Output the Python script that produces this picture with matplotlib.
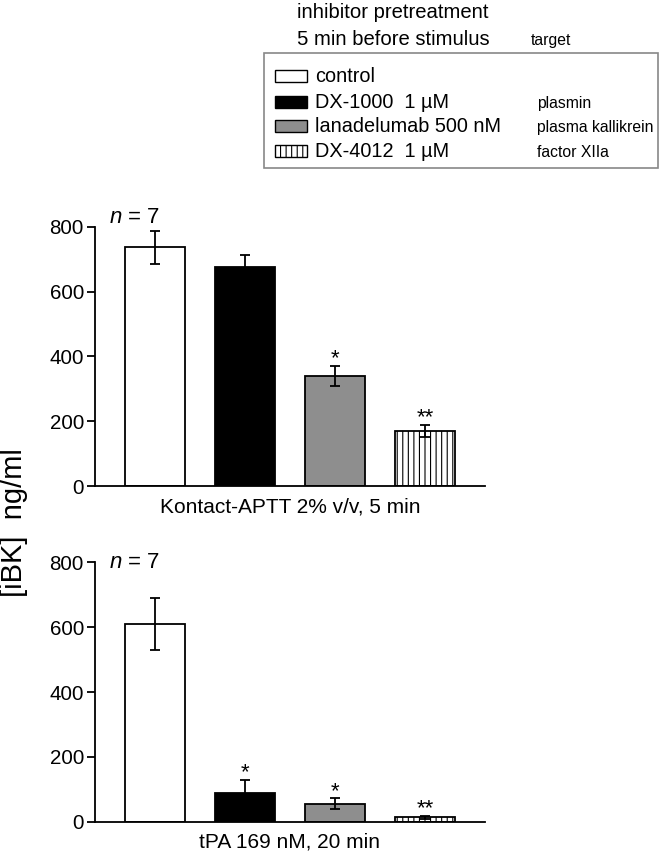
import numpy as np
import matplotlib
matplotlib.use('Agg')
import matplotlib.pyplot as plt
from matplotlib.patches import Rectangle

plt.rcParams['font.family'] = ['Liberation Sans', 'DejaVu Sans']
plt.rcParams['mathtext.fontset'] = 'custom'
plt.rcParams['mathtext.it'] = 'Liberation Sans:italic'
plt.rcParams['mathtext.rm'] = 'Liberation Sans'
plt.rcParams['hatch.linewidth'] = 0.8

# data
groups = ['control', 'DX-1000  1 µM', 'lanadelumab 500 nM', 'DX-4012  1 µM']
targets = ['', 'plasmin', 'plasma kallikrein', 'factor XIIa']
fills = ['white', 'black', '#8e8e8e', 'white']
hatches = [None, None, None, '|||']

aptt_mean = [736, 676, 340, 170]
aptt_sem = [52, 37, 31, 18]
aptt_stars = ['', '', '*', '**']

tpa_mean = [610, 88, 56, 13]
tpa_sem = [81, 41, 16, 5]
tpa_stars = ['', '*', '*', '**']

panels = [
    ('Kontact-APTT 2% v/v, 5 min', aptt_mean, aptt_sem, aptt_stars),
    ('tPA 169 nM, 20 min', tpa_mean, tpa_sem, tpa_stars),
]

W, H = 661, 855
fig = plt.figure(figsize=(W / 100, H / 100), dpi=100)


def fx(px):
    return px / W


def fy(py):
    return 1 - py / H


axes_rects = [
    [fx(95), fy(486), fx(485) - fx(95), fy(226.7) - fy(486)],
    [fx(95), fy(821.7), fx(485) - fx(95), fy(562.3) - fy(821.7)],
]
n_label_y = [1.014, 0.978]

x = np.arange(len(groups))
for rect, ny, (xlab, mean, sem, stars) in zip(axes_rects, n_label_y, panels):
    ax = fig.add_axes(rect)
    ax.bar(x, mean, width=0.667, color=fills, edgecolor='black',
           linewidth=1.3, hatch=hatches, zorder=2)
    ax.errorbar(x, mean, yerr=sem, fmt='none', ecolor='black',
                elinewidth=1.3, capsize=3.5, capthick=1.3, zorder=3)
    for xi, m, s, st in zip(x, mean, sem, stars):
        if st:
            ax.annotate(st, (xi, m + s), xytext=(0, 1), textcoords='offset points',
                        ha='center', va='baseline', fontsize=16)
    ax.set_xlim(-0.667, 3.667)
    ax.set_ylim(0, 800)
    ax.set_yticks([0, 200, 400, 600, 800])
    ax.set_xticks([])
    ax.spines['top'].set_visible(False)
    ax.spines['right'].set_visible(False)
    ax.spines['left'].set_linewidth(1.3)
    ax.spines['bottom'].set_linewidth(1.3)
    ax.tick_params(axis='y', length=6, width=1.3, labelsize=14.8, pad=2)
    ax.set_xlabel(xlab, fontsize=15, labelpad=8)
    ax.text(0.035, ny, r'$n$ = 7', transform=ax.transAxes, fontsize=16,
            ha='left', va='baseline')

fig.text(fx(14), fy(523), '[iBK]  ng/ml', rotation=90, fontsize=21,
         ha='center', va='center')

# legend block
fig.text(fx(296.7), fy(18.3), 'inhibitor pretreatment', fontsize=14.6, va='baseline')
fig.text(fx(296.7), fy(45), '5 min before stimulus', fontsize=14.6, va='baseline')
fig.text(fx(530.7), fy(45), 'target', fontsize=11.3, va='baseline')
fig.patches.append(Rectangle((fx(264), fy(168.3)), fx(658) - fx(264), fy(53.3) - fy(168.3),
                             transform=fig.transFigure, fill=False,
                             edgecolor='#888888', linewidth=1.2))
row_base = [82, 108, 132, 157]
for yb, g, t, c, h in zip(row_base, groups, targets, fills, hatches):
    fig.patches.append(Rectangle((fx(275), fy(yb)), fx(307) - fx(275), fy(yb - 12) - fy(yb),
                                 transform=fig.transFigure, facecolor=c,
                                 edgecolor='black', linewidth=1.0, hatch=h))
    fig.text(fx(315), fy(yb), g, fontsize=14.3, va='baseline')
    if t:
        fig.text(fx(536.7), fy(yb), t, fontsize=11.3, va='baseline')

fig.savefig('out.png', dpi=100)
